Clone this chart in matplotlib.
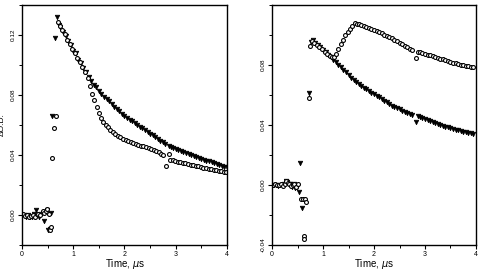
import numpy as np
import matplotlib
matplotlib.use("Agg")
import matplotlib.pyplot as plt
from matplotlib.ticker import MultipleLocator, FixedLocator

plt.rcParams["font.family"] = ["Liberation Sans", "DejaVu Sans"]

# (time, dOD) pairs
left_tri = [
    (0.00, 0.000), (0.04, 0.000), (0.08, -0.001), (0.12, 0.000), (0.16, -0.0015),
    (0.20, -0.001), (0.24, 0.001), (0.27, 0.0033), (0.30, 0.000), (0.34, -0.001),
    (0.38, 0.001), (0.42, -0.004), (0.45, 0.002), (0.48, 0.0035), (0.51, -0.010),
    (0.54, -0.0095), (0.57, 0.0015), (0.59, 0.066), (0.65, 0.118), (0.68, 0.132),
    (0.72, 0.127), (0.75, 0.1255), (0.80, 0.122), (0.85, 0.1195), (0.90, 0.116),
    (0.95, 0.1135), (1.00, 0.1096), (1.05, 0.1078), (1.10, 0.1035), (1.15, 0.1012),
    (1.20, 0.098), (1.25, 0.0953), (1.30, 0.092), (1.35, 0.0895), (1.40, 0.087),
    (1.45, 0.085), (1.50, 0.083), (1.55, 0.081), (1.60, 0.079), (1.65, 0.0775),
    (1.70, 0.0758), (1.75, 0.074), (1.80, 0.0722), (1.85, 0.0705), (1.90, 0.069),
    (1.95, 0.0675), (2.00, 0.066), (2.05, 0.0648), (2.10, 0.0636), (2.15, 0.0624),
    (2.20, 0.0612), (2.25, 0.060), (2.30, 0.0588), (2.35, 0.0577), (2.40, 0.0566),
    (2.45, 0.0555), (2.50, 0.0543), (2.55, 0.0531), (2.60, 0.0519), (2.65, 0.0507),
    (2.70, 0.0495), (2.75, 0.0484), (2.80, 0.0474), (2.86, 0.0458), (2.90, 0.0452),
    (2.95, 0.0445), (3.00, 0.0438), (3.05, 0.0431), (3.10, 0.0425), (3.15, 0.0419),
    (3.20, 0.0412), (3.25, 0.0405), (3.30, 0.0399), (3.35, 0.0393), (3.40, 0.0387),
    (3.45, 0.0381), (3.50, 0.0375), (3.55, 0.0369), (3.60, 0.0363), (3.65, 0.0357),
    (3.70, 0.0351), (3.75, 0.0345), (3.80, 0.0340), (3.85, 0.0334), (3.90, 0.0329),
    (3.95, 0.0323), (4.00, 0.0318),
]

left_circ = [
    (0.02, 0.0005), (0.06, -0.0005), (0.10, 0.000), (0.14, -0.001), (0.18, -0.0005),
    (0.22, 0.000), (0.26, -0.0015), (0.29, 0.0005), (0.32, 0.001), (0.36, 0.000),
    (0.40, 0.0025), (0.43, 0.0015), (0.46, 0.003), (0.49, 0.004), (0.52, 0.001),
    (0.55, -0.010), (0.57, -0.008), (0.585, 0.038), (0.62, 0.058), (0.66, 0.066),
    (0.70, 0.129), (0.74, 0.126), (0.78, 0.1235), (0.83, 0.1205), (0.88, 0.117),
    (0.93, 0.114), (0.98, 0.111), (1.03, 0.108), (1.08, 0.105), (1.13, 0.102),
    (1.18, 0.099), (1.23, 0.0955), (1.28, 0.0915), (1.33, 0.086), (1.37, 0.081),
    (1.41, 0.077), (1.46, 0.072), (1.51, 0.068), (1.55, 0.065), (1.59, 0.062),
    (1.63, 0.060), (1.67, 0.0585), (1.72, 0.057), (1.77, 0.0555), (1.82, 0.054),
    (1.87, 0.0528), (1.92, 0.0518), (1.97, 0.0509), (2.02, 0.0502), (2.07, 0.0495),
    (2.12, 0.0488), (2.17, 0.0482), (2.22, 0.0475), (2.27, 0.0469), (2.32, 0.0463),
    (2.37, 0.0457), (2.42, 0.0451), (2.47, 0.0446), (2.52, 0.0440), (2.57, 0.0433),
    (2.62, 0.0426), (2.67, 0.0418), (2.72, 0.0410), (2.76, 0.0402), (2.81, 0.033),
    (2.86, 0.0410), (2.89, 0.0368), (2.94, 0.0364), (2.99, 0.0360), (3.04, 0.0356),
    (3.09, 0.0352), (3.14, 0.0348), (3.19, 0.0344), (3.24, 0.0340), (3.29, 0.0336),
    (3.34, 0.0332), (3.39, 0.0328), (3.44, 0.0324), (3.49, 0.0320), (3.54, 0.0316),
    (3.59, 0.0312), (3.64, 0.0309), (3.69, 0.0306), (3.74, 0.0302), (3.79, 0.0299),
    (3.84, 0.0296), (3.89, 0.0293), (3.94, 0.0290), (3.99, 0.0287),
]

right_tri = [
    (0.00, 0.000), (0.04, 0.000), (0.08, 0.000), (0.12, -0.0005), (0.16, 0.000),
    (0.20, 0.000), (0.24, 0.0005), (0.27, 0.0025), (0.30, 0.002), (0.33, 0.0005),
    (0.36, 0.001), (0.40, -0.001), (0.43, 0.0005), (0.46, -0.002), (0.49, -0.001),
    (0.52, -0.0044), (0.55, 0.0144), (0.59, -0.015), (0.72, 0.0616), (0.76, 0.0955),
    (0.80, 0.0965), (0.85, 0.095), (0.90, 0.0935), (0.95, 0.092), (1.00, 0.0902),
    (1.05, 0.0886), (1.10, 0.0869), (1.15, 0.0852), (1.20, 0.0835), (1.25, 0.0818),
    (1.30, 0.0801), (1.35, 0.0785), (1.40, 0.0768), (1.45, 0.0751), (1.50, 0.0733),
    (1.55, 0.0716), (1.60, 0.0700), (1.65, 0.0687), (1.70, 0.0674), (1.75, 0.0662),
    (1.80, 0.0650), (1.85, 0.0638), (1.90, 0.0627), (1.95, 0.0616), (2.00, 0.0606),
    (2.05, 0.0596), (2.10, 0.0585), (2.15, 0.0574), (2.20, 0.0563), (2.25, 0.0552),
    (2.30, 0.0540), (2.35, 0.0529), (2.40, 0.0520), (2.45, 0.0512), (2.50, 0.0504),
    (2.55, 0.0496), (2.60, 0.0489), (2.65, 0.0482), (2.70, 0.0475), (2.75, 0.0469),
    (2.82, 0.0422), (2.86, 0.0458), (2.90, 0.0452), (2.95, 0.0445), (3.00, 0.0438),
    (3.05, 0.0431), (3.10, 0.0424), (3.15, 0.0418), (3.20, 0.0412), (3.25, 0.0406),
    (3.30, 0.0400), (3.35, 0.0395), (3.40, 0.0389), (3.45, 0.0384), (3.50, 0.0379),
    (3.55, 0.0374), (3.60, 0.0369), (3.65, 0.0364), (3.70, 0.0359), (3.75, 0.0355),
    (3.80, 0.0351), (3.85, 0.0347), (3.90, 0.0344), (3.95, 0.0341),
]

right_circ = [
    (0.02, 0.000), (0.06, 0.0005), (0.10, 0.000), (0.14, 0.000), (0.18, 0.0005),
    (0.22, -0.0005), (0.26, 0.001), (0.28, 0.003), (0.31, 0.0015), (0.34, 0.001),
    (0.38, -0.0005), (0.41, 0.000), (0.44, 0.001), (0.47, -0.0015), (0.50, 0.0005),
    (0.57, -0.009), (0.60, -0.0096), (0.63, -0.034), (0.635, -0.0362), (0.655, -0.0095),
    (0.665, -0.0115), (0.72, 0.058), (0.74, 0.093), (0.78, 0.0958), (0.83, 0.095),
    (0.88, 0.0935), (0.93, 0.0922), (0.98, 0.0906), (1.03, 0.089), (1.08, 0.0875),
    (1.13, 0.0862), (1.18, 0.0853), (1.22, 0.0852), (1.26, 0.0875), (1.30, 0.091),
    (1.35, 0.094), (1.39, 0.097), (1.44, 0.100), (1.49, 0.102), (1.53, 0.104),
    (1.57, 0.1058), (1.62, 0.1078), (1.66, 0.1076), (1.70, 0.1072), (1.75, 0.1065),
    (1.80, 0.1058), (1.85, 0.1052), (1.90, 0.1046), (1.95, 0.1040), (2.00, 0.1034),
    (2.05, 0.1027), (2.10, 0.1019), (2.15, 0.1011), (2.20, 0.1003), (2.25, 0.0995),
    (2.30, 0.0986), (2.35, 0.0977), (2.40, 0.0967), (2.45, 0.0957), (2.50, 0.0948),
    (2.55, 0.0938), (2.60, 0.0928), (2.65, 0.0918), (2.70, 0.0909), (2.75, 0.0901),
    (2.82, 0.0845), (2.86, 0.0885), (2.90, 0.0888), (2.95, 0.0882), (3.00, 0.0876),
    (3.05, 0.0870), (3.10, 0.0864), (3.15, 0.0858), (3.20, 0.0853), (3.25, 0.0848),
    (3.30, 0.0843), (3.35, 0.0838), (3.40, 0.0832), (3.45, 0.0826), (3.50, 0.0821),
    (3.55, 0.0816), (3.60, 0.0811), (3.65, 0.0806), (3.70, 0.0802), (3.75, 0.0798),
    (3.80, 0.0795), (3.85, 0.0793), (3.90, 0.0790), (3.95, 0.0787),
]

x_ticks = [0, 1, 2, 3, 4]
left_yticks = [0.00, 0.04, 0.08, 0.12]
right_yticks = [-0.04, 0.00, 0.04, 0.08]


def draw_series(ax, tri, circ):
    t, v = np.array(tri).T
    ax.plot(t, v, "v", color="black", ms=3.3, mew=0.5, ls="none")
    t, v = np.array(circ).T
    ax.plot(t, v, "o", mfc="white", mec="black", ms=2.8, mew=0.8, ls="none")


def style_axis(ax, ylim, yticks):
    ax.set_xlim(0, 4)
    ax.set_ylim(*ylim)
    ax.xaxis.set_major_locator(FixedLocator(x_ticks))
    ax.xaxis.set_minor_locator(MultipleLocator(0.5))
    ax.yaxis.set_major_locator(FixedLocator(yticks))
    ax.yaxis.set_minor_locator(MultipleLocator(0.02))
    ax.set_xticklabels([str(x) for x in x_ticks], fontsize=5)
    ax.set_yticklabels(["%.2f" % y for y in yticks], fontsize=4.6,
                       rotation=90, va="center")
    ax.tick_params(which="major", length=3, width=0.8, pad=1.5)
    ax.tick_params(which="minor", length=2, width=0.7)
    for s in ax.spines.values():
        s.set_linewidth(1.0)
    ax.set_xlabel("Time, $\\mu$s", fontsize=7, labelpad=-1)


fig = plt.figure(figsize=(4.81, 2.72), dpi=100)
ax1 = fig.add_axes([22 / 481, 27 / 272, 205 / 481, 240 / 272])
ax2 = fig.add_axes([272 / 481, 27 / 272, 204 / 481, 240 / 272])

draw_series(ax1, left_tri, left_circ)
draw_series(ax2, right_tri, right_circ)

style_axis(ax1, (-0.02, 0.14), left_yticks)
style_axis(ax2, (-0.04, 0.12), right_yticks)

ax1.set_ylabel("ΔO.D.", fontsize=6)
ax1.yaxis.set_label_coords(-0.078, 0.5)

fig.savefig("out.png", dpi=100)
